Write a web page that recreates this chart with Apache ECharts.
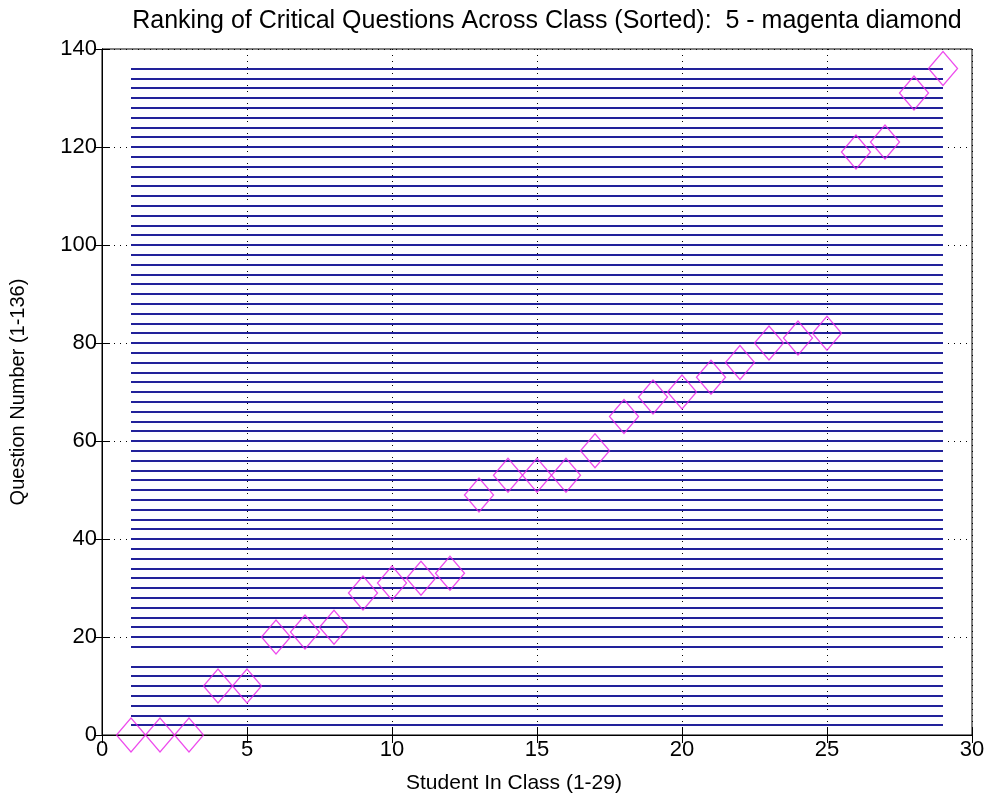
<!DOCTYPE html>
<html>
<head>
<meta charset="utf-8">
<script src="https://cdn.jsdelivr.net/npm/echarts@6/dist/echarts.min.js"></script>
<style>
  html, body { margin: 0; padding: 0; background: #fff; }
  #main { width: 990px; height: 810px; }
</style>
</head>
<body>
<div id="main"></div>
<script>
// students along the x axis and the question each one ranked (sorted)
const students = [1, 2, 3, 4, 5, 6, 7, 8, 9, 10, 11, 12, 13, 14, 15, 16, 17, 18, 19, 20, 21, 22, 23, 24, 25, 26, 27, 28, 29];
const questionRank = [0, 0, 0, 10, 10, 20, 21, 22, 29, 31, 32, 33, 49, 53, 53, 53, 58, 65, 69, 70, 73, 76, 80, 81, 82, 119, 121, 131, 136];

// horizontal reference lines (question levels), drawn from first to last student
const lineLevels = [2, 4, 6, 8, 10, 12, 14, 18, 20, 22, 24, 26, 28, 30, 32, 34, 36, 38, 40,
    42, 44, 46, 48, 50, 52, 54, 56, 58, 60, 62, 64, 66, 68, 70, 72, 74, 76, 78, 80,
    82, 84, 86, 88, 90, 92, 94, 96, 98, 100, 102, 104, 106, 108, 110, 112, 114, 116, 118, 120,
    122, 124, 126, 128, 130, 132, 134, 136];
const lineFrom = 1;
const lineTo = 29;

const titleText = 'Ranking of Critical Questions Across Class (Sorted):  5 - magenta diamond';
const xName = 'Student In Class (1-29)';
const yName = 'Question Number (1-136)';

let myChart = echarts.init(document.getElementById('main'));

const font = 'Liberation Sans, Arial, sans-serif';

let lineData = lineLevels.map(function (v) {
    return { coords: [[lineFrom, v], [lineTo, v]] };
});
let pointData = students.map(function (s, i) {
    return [s, questionRank[i]];
});

let tick = { show: true, inside: true, length: 8, lineStyle: { color: '#000', width: 1 } };
let dotted = { show: true, lineStyle: { color: '#000', width: 1, type: [1, 5] } };

let option = {
    backgroundColor: '#fff',
    animation: false,
    title: {
        text: titleText,
        left: 542,
        textAlign: 'center',
        top: 4,
        textStyle: { fontFamily: font, fontWeight: 'normal', fontSize: 25, color: '#000' }
    },
    grid: {
        left: 102, right: 18, top: 49, bottom: 75,
        show: true,
        borderColor: '#000',
        borderWidth: 1,
        backgroundColor: '#fff'
    },
    xAxis: [
        {
            type: 'value',
            min: 0, max: 30, interval: 5,
            name: xName,
            nameLocation: 'middle',
            nameGap: 38,
            nameTextStyle: { fontFamily: font, fontSize: 21, color: '#000', padding: [0, 46, 0, 0] },
            axisLine: { show: true, lineStyle: { color: '#000' } },
            axisTick: tick,
            axisLabel: { fontFamily: font, fontSize: 22, color: '#000', margin: 4 },
            splitLine: dotted
        },
        {
            type: 'value',
            position: 'top',
            min: 0, max: 30, interval: 5,
            axisLine: { show: true, lineStyle: { color: '#000' } },
            axisTick: tick,
            axisLabel: { show: false },
            splitLine: { show: false }
        }
    ],
    yAxis: [
        {
            type: 'value',
            min: 0, max: 140, interval: 20,
            name: yName,
            nameLocation: 'middle',
            nameGap: 74,
            nameTextStyle: { fontFamily: font, fontSize: 20, color: '#000' },
            axisLine: { show: true, lineStyle: { color: '#000' } },
            axisTick: tick,
            axisLabel: { fontFamily: font, fontSize: 22, color: '#000', margin: 5 },
            splitLine: dotted
        },
        {
            type: 'value',
            position: 'right',
            min: 0, max: 140, interval: 20,
            axisLine: { show: true, lineStyle: { color: '#000' } },
            axisTick: tick,
            axisLabel: { show: false },
            splitLine: { show: false }
        }
    ],
    series: [
        {
            type: 'lines',
            coordinateSystem: 'cartesian2d',
            xAxisIndex: 0,
            yAxisIndex: 0,
            silent: true,
            z: 2,
            lineStyle: { color: '#22229a', width: 2, opacity: 1 },
            data: lineData
        },
        {
            type: 'scatter',
            xAxisIndex: 0,
            yAxisIndex: 0,
            clip: false,
            z: 3,
            symbol: 'diamond',
            symbolSize: [29, 34],
            itemStyle: { color: 'rgba(0,0,0,0)', borderColor: '#e81ee8', borderWidth: 1.3 },
            data: pointData
        }
    ]
};

myChart.setOption(option);
</script>
</body>
</html>
